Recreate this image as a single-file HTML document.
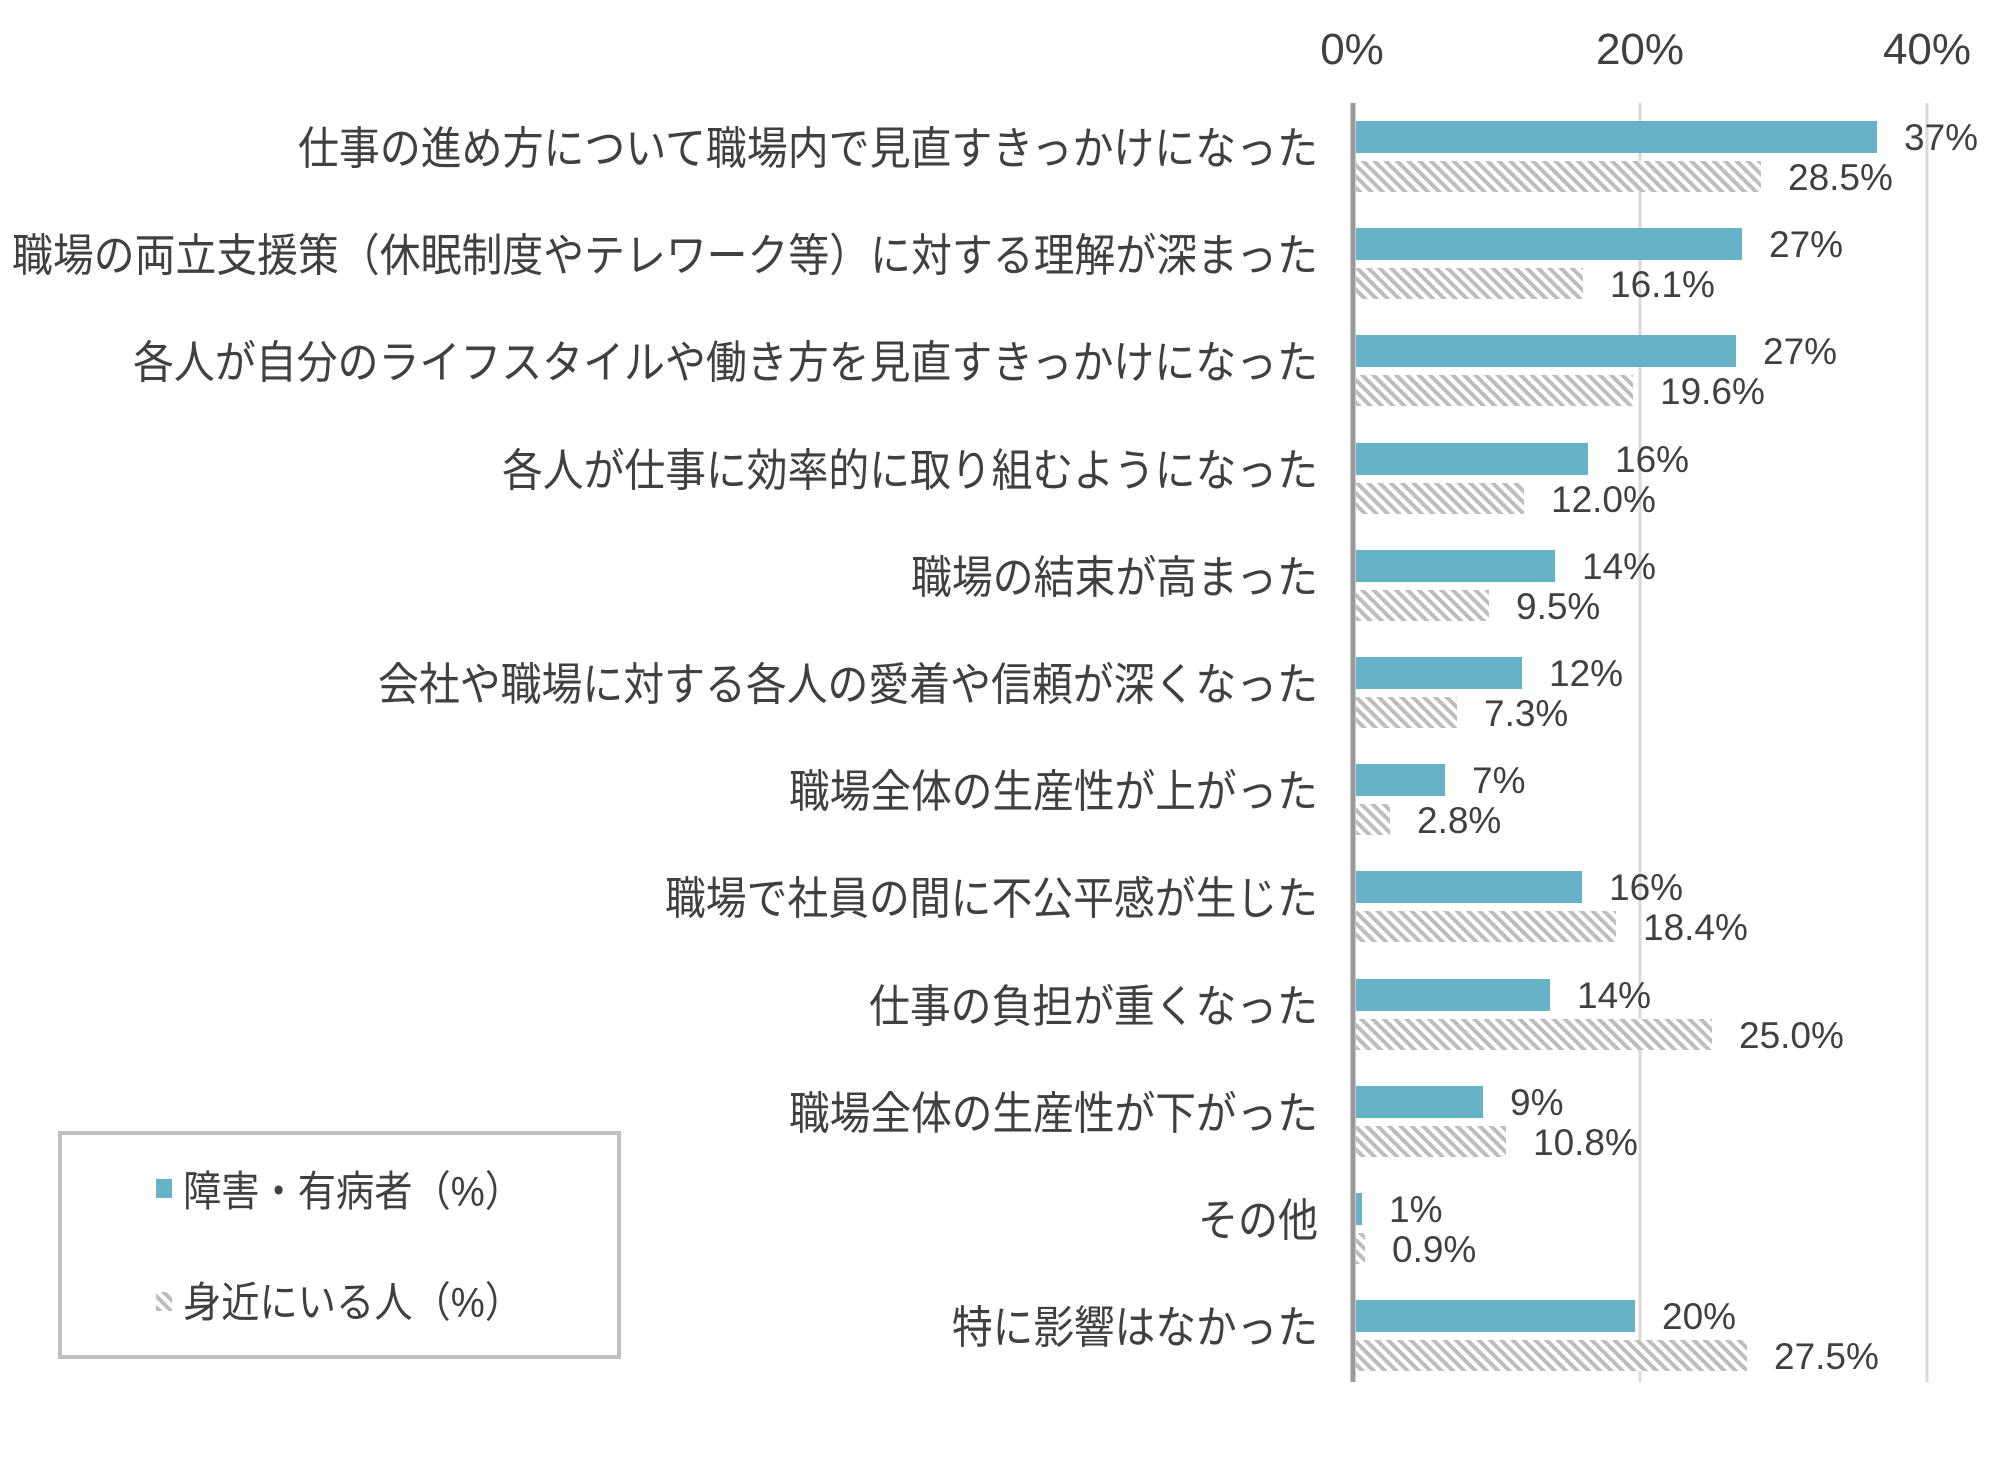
<!DOCTYPE html>
<html><head><meta charset="utf-8"><style>
html,body{margin:0;padding:0;background:#fff;}
svg{display:block;}
text{font-family:"Liberation Sans","Noto Sans CJK JP",sans-serif;fill:#404040;}
</style></head><body>
<svg width="2000" height="1470" viewBox="0 0 2000 1470" xmlns="http://www.w3.org/2000/svg">
<defs>
<pattern id="h" width="8" height="8" patternUnits="userSpaceOnUse" patternTransform="rotate(-45)">
<rect width="8" height="8" fill="#fff"/><rect width="4" height="8" fill="#bdbdbd"/>
</pattern>
</defs>
<line x1="1640" y1="103" x2="1640" y2="1382" stroke="#d9d9d9" stroke-width="3"/>
<line x1="1927" y1="103" x2="1927" y2="1382" stroke="#d9d9d9" stroke-width="3"/>
<g font-size="44" text-anchor="middle">
<text x="1352" y="64">0%</text>
<text x="1640" y="64">20%</text>
<text x="1927" y="64">40%</text>
</g>
<g fill="#66b3c8">
<rect x="1356" y="121" width="521" height="32"/>
<rect x="1356" y="228" width="386" height="32"/>
<rect x="1356" y="335" width="380" height="32"/>
<rect x="1356" y="443" width="232" height="32"/>
<rect x="1356" y="550" width="199" height="32"/>
<rect x="1356" y="657" width="166" height="32"/>
<rect x="1356" y="764" width="89" height="32"/>
<rect x="1356" y="871" width="226" height="32"/>
<rect x="1356" y="979" width="194" height="32"/>
<rect x="1356" y="1086" width="127" height="32"/>
<rect x="1356" y="1193" width="6" height="32"/>
<rect x="1356" y="1300" width="279" height="32"/>
</g>
<g fill="url(#h)">
<rect x="1356" y="161" width="405" height="31"/>
<rect x="1356" y="268" width="227" height="31"/>
<rect x="1356" y="375" width="277" height="31"/>
<rect x="1356" y="483" width="168" height="31"/>
<rect x="1356" y="590" width="133" height="31"/>
<rect x="1356" y="697" width="101" height="31"/>
<rect x="1356" y="804" width="34" height="31"/>
<rect x="1356" y="911" width="260" height="31"/>
<rect x="1356" y="1019" width="356" height="31"/>
<rect x="1356" y="1126" width="150" height="31"/>
<rect x="1356" y="1233" width="9" height="31"/>
<rect x="1356" y="1340" width="391" height="31"/>
</g>
<g font-size="37" transform="translate(-7,1)">
<text x="1911" y="149">37%</text>
<text x="1776" y="256">27%</text>
<text x="1770" y="363">27%</text>
<text x="1622" y="471">16%</text>
<text x="1589" y="578">14%</text>
<text x="1556" y="685">12%</text>
<text x="1479" y="792">7%</text>
<text x="1616" y="899">16%</text>
<text x="1584" y="1007">14%</text>
<text x="1517" y="1114">9%</text>
<text x="1396" y="1221">1%</text>
<text x="1669" y="1328">20%</text>
<text x="1795" y="189">28.5%</text>
<text x="1617" y="296">16.1%</text>
<text x="1667" y="403">19.6%</text>
<text x="1558" y="511">12.0%</text>
<text x="1523" y="618">9.5%</text>
<text x="1491" y="725">7.3%</text>
<text x="1424" y="832">2.8%</text>
<text x="1650" y="939">18.4%</text>
<text x="1746" y="1047">25.0%</text>
<text x="1540" y="1154">10.8%</text>
<text x="1399" y="1261">0.9%</text>
<text x="1781" y="1368">27.5%</text>
</g>
<g font-size="45" text-anchor="end">
<text x="1318" y="164" textLength="1020" lengthAdjust="spacingAndGlyphs">仕事の進め方について職場内で見直すきっかけになった</text>
<text x="1318" y="271" textLength="1306" lengthAdjust="spacingAndGlyphs">職場の両立支援策（休眠制度やテレワーク等）に対する理解が深まった</text>
<text x="1318" y="378" textLength="1185" lengthAdjust="spacingAndGlyphs">各人が自分のライフスタイルや働き方を見直すきっかけになった</text>
<text x="1318" y="486" textLength="816" lengthAdjust="spacingAndGlyphs">各人が仕事に効率的に取り組むようになった</text>
<text x="1318" y="593" textLength="407" lengthAdjust="spacingAndGlyphs">職場の結束が高まった</text>
<text x="1318" y="700" textLength="940" lengthAdjust="spacingAndGlyphs">会社や職場に対する各人の愛着や信頼が深くなった</text>
<text x="1318" y="807" textLength="529" lengthAdjust="spacingAndGlyphs">職場全体の生産性が上がった</text>
<text x="1318" y="914" textLength="653" lengthAdjust="spacingAndGlyphs">職場で社員の間に不公平感が生じた</text>
<text x="1318" y="1022" textLength="449" lengthAdjust="spacingAndGlyphs">仕事の負担が重くなった</text>
<text x="1318" y="1129" textLength="529" lengthAdjust="spacingAndGlyphs">職場全体の生産性が下がった</text>
<text x="1318" y="1236" textLength="120" lengthAdjust="spacingAndGlyphs">その他</text>
<text x="1318" y="1343" textLength="366" lengthAdjust="spacingAndGlyphs">特に影響はなかった</text>
</g>
<line x1="1353" y1="103" x2="1353" y2="1382" stroke="#999" stroke-width="5"/>
<rect x="60" y="1133" width="559" height="224" fill="#fff" stroke="#bfbfbf" stroke-width="4"/>
<rect x="156" y="1179" width="16" height="19" fill="#66b3c8"/>
<rect x="156" y="1292" width="16" height="19" fill="url(#h)"/>
<text x="183" y="1206" font-size="42" textLength="340" lengthAdjust="spacingAndGlyphs">障害・有病者（%）</text>
<text x="183" y="1317" font-size="42" textLength="340" lengthAdjust="spacingAndGlyphs">身近にいる人（%）</text>
</svg>
</body></html>
